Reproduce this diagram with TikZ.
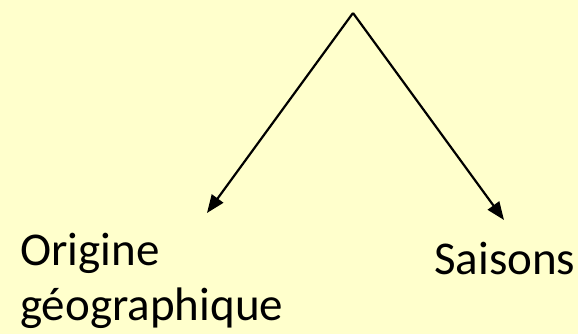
\documentclass[tikz,border=0pt]{standalone}
\usepackage{fontspec}
\setmainfont{Carlito}
\usetikzlibrary{arrows.meta, positioning}
\definecolor{paleyellow}{RGB}{255,255,204}

\begin{document}
\begin{tikzpicture}[x=1pt, y=1pt,
    branch/.style={line width=2.2pt, -{Triangle[length=18pt, width=14pt]}},
    label/.style={font=\fontsize{47}{55}\selectfont, inner sep=0pt, align=left}]
                    % Background
                    \fill[paleyellow] (0,0) rectangle (578,334);
                    \useasboundingbox (0,0) rectangle (578,334);

                    % Apex and arrow ends
                    \coordinate (top) at (353,321);
                    \coordinate (leftend) at (207,121);
                    \coordinate (rightend) at (504,114);

                    % Arrows
                    \draw[branch] (top) -- (leftend);
                    \draw[branch] (top) -- (rightend);

                    % Labels
                    \node[label, anchor=base west] (origine) at (20,68) {Origine};
                    \node[label, anchor=base west] (geo) at (20,13) {géographique};
                    \node[label, anchor=base west] (saisons) at (434,59) {Saisons};
                \end{tikzpicture}
\end{document}
